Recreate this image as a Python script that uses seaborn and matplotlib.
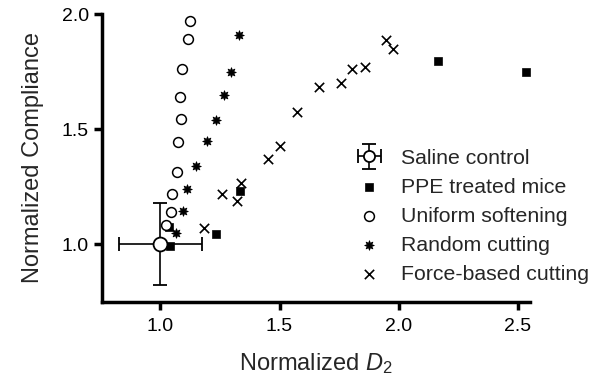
import numpy as np
import pandas as pd
import matplotlib
matplotlib.use("Agg")
import matplotlib.pyplot as plt
import seaborn as sns
from matplotlib.container import ErrorbarContainer
from matplotlib.legend_handler import HandlerErrorbar
from matplotlib.lines import Line2D

# saline control (mean +/- error)
saline_x, saline_y = 1.0, 1.0
saline_xerr, saline_yerr = 0.175, 0.178

ppe_x = [1.042, 1.035, 1.232, 1.336, 2.166, 2.532]
ppe_y = [0.991, 1.073, 1.045, 1.232, 1.796, 1.749]

uniform_x = [1.025, 1.043, 1.049, 1.070, 1.074, 1.085, 1.082, 1.092, 1.117, 1.124]
uniform_y = [1.083, 1.139, 1.217, 1.316, 1.445, 1.542, 1.640, 1.761, 1.891, 1.970]

random_x = [1.064, 1.094, 1.113, 1.151, 1.194, 1.235, 1.265, 1.295, 1.328]
random_y = [1.049, 1.143, 1.242, 1.340, 1.447, 1.538, 1.649, 1.749, 1.909]

force_x = [1.181, 1.260, 1.321, 1.338, 1.452, 1.501, 1.575, 1.665, 1.757, 1.803, 1.860, 1.946, 1.978]
force_y = [1.071, 1.219, 1.187, 1.267, 1.370, 1.427, 1.575, 1.684, 1.701, 1.760, 1.770, 1.887, 1.847]

sns.set_style("ticks")
plt.rcParams['font.family'] = ['Liberation Sans', 'DejaVu Sans']
plt.rcParams['mathtext.fontset'] = 'custom'
plt.rcParams['mathtext.rm'] = 'Liberation Sans'
plt.rcParams['mathtext.it'] = 'Liberation Sans:italic'

fig = plt.figure(figsize=(6, 3.81), dpi=100)
ax = fig.add_axes([0.17, 0.208, 0.713, 0.755])

sns.scatterplot(x=ppe_x, y=ppe_y, marker='s', s=36, color='black',
                edgecolor='black', ax=ax, label='PPE treated mice', zorder=3)
sns.scatterplot(x=uniform_x, y=uniform_y, marker='o', s=50, facecolor='white',
                edgecolor='black', linewidth=1.1, ax=ax, label='Uniform softening', zorder=3)
sns.scatterplot(x=random_x, y=random_y, marker=(8, 1, 0), s=48, color='black',
                edgecolor='black', ax=ax, label='Random cutting', zorder=3)
sns.scatterplot(x=force_x, y=force_y, marker='x', s=45, color='black',
                linewidth=1.2, ax=ax, label='Force-based cutting', zorder=3)

ax.errorbar(saline_x, saline_y, xerr=saline_xerr, yerr=saline_yerr, fmt='o',
            ms=10, mfc='white', mec='black', mew=1.3, ecolor='black',
            elinewidth=1.2, capsize=4.7, capthick=1.2, zorder=5,
            label='Saline control')

ax.set_xlim(0.755, 2.55)
ax.set_ylim(0.75, 2.0)
ax.set_xticks([1.0, 1.5, 2.0, 2.5])
ax.set_yticks([1.0, 1.5, 2.0])
ax.set_xticklabels(['1.0', '1.5', '2.0', '2.5'])
ax.set_yticklabels(['1.0', '1.5', '2.0'])
for s in ['top', 'right']:
    ax.spines[s].set_visible(False)
for s in ['left', 'bottom']:
    ax.spines[s].set_linewidth(2.5)
    ax.spines[s].set_color('black')
ax.tick_params(direction='out', length=6, width=2.5, labelsize=14, colors='black')
ax.tick_params(axis='x', pad=6)

ax.set_xlabel('Normalized $\\mathit{D}_2$', fontsize=17, labelpad=11)
ax.set_ylabel('Normalized Compliance', fontsize=17, labelpad=13)


def small_marker(lh, oh):
    lh.update_from(oh)
    if isinstance(lh, Line2D) and lh.get_marker() == 'o':
        lh.set_markersize(8)


h, l = ax.get_legend_handles_labels()
order = [l.index('Saline control'), l.index('PPE treated mice'), l.index('Uniform softening'),
         l.index('Random cutting'), l.index('Force-based cutting')]
ax.legend([h[i] for i in order], [l[i] for i in order], loc='upper left',
          bbox_to_anchor=(0.575, 0.561), frameon=False, numpoints=1,
          fontsize=15.3, handlelength=1.2, handletextpad=0.9, labelspacing=0.47,
          borderaxespad=0,
          handler_map={ErrorbarContainer: HandlerErrorbar(xerr_size=0.55, yerr_size=0.6,
                                                          update_func=small_marker)})

fig.savefig('out.png', dpi=100)
